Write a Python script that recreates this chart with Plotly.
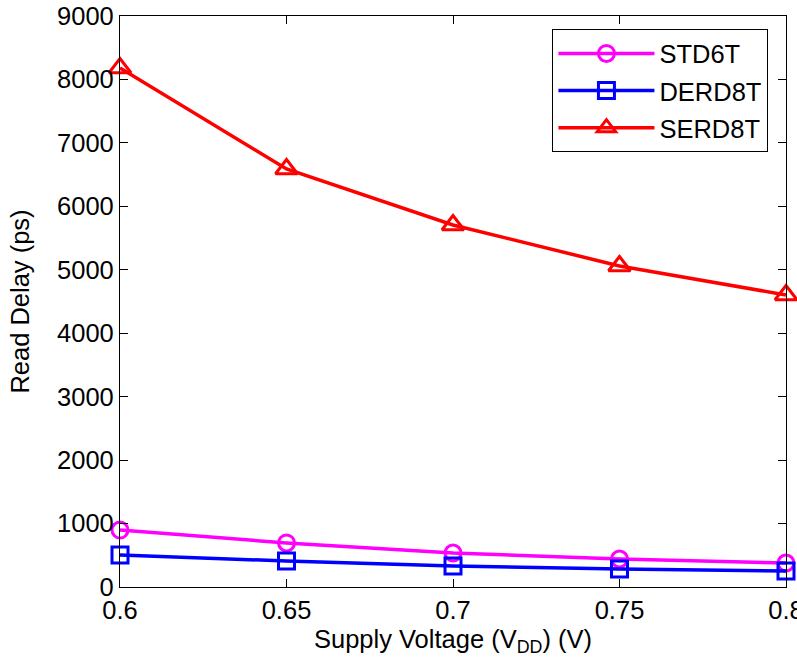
import plotly.graph_objects as go

vdd = [0.6, 0.65, 0.7, 0.75, 0.8]
std6t = [898, 694, 536, 441, 378]
derd8t = [504, 410, 331, 284, 252]
serd8t = [8180, 6589, 5706, 5060, 4603]

x_ticks = [0.6, 0.65, 0.7, 0.75, 0.8]
x_ticklabels = ["0.6", "0.65", "0.7", "0.75", "0.8"]
y_ticks = [0, 1000, 2000, 3000, 4000, 5000, 6000, 7000, 8000, 9000]

FONT = "Liberation Sans, Arial, Helvetica, sans-serif"
FS = 25.5

fig = go.Figure()
series = [
    ("STD6T", std6t, "#ff00ff", "circle-open", 16),
    ("DERD8T", derd8t, "#0000ff", "square-open", 16),
    ("SERD8T", serd8t, "#ff0000", "triangle-up-open", 19),
]
for name, vals, col, sym, sz in series:
    fig.add_trace(go.Scatter(
        x=vdd, y=vals, name=name, mode="lines+markers",
        line=dict(color=col, width=3.5),
        marker=dict(symbol=sym, size=sz, color=col, line=dict(width=3, color=col)),
        legendgroup=name, cliponaxis=False,
    ))

axis_common = dict(
    showline=True, linecolor="black", linewidth=1.2, mirror="ticks",
    ticks="inside", ticklen=8, tickcolor="black", tickwidth=1,
    showgrid=False, zeroline=False, automargin=False,
    ticklabeloverflow="allow",
    tickfont=dict(family=FONT, size=FS, color="black"),
)

fig.update_layout(
    width=797, height=666,
    margin=dict(l=120, r=11, t=16, b=79, autoexpand=False),
    paper_bgcolor="white", plot_bgcolor="white",
    font=dict(family=FONT, size=FS, color="black"),
    xaxis=dict(range=[0.6, 0.8], tickvals=x_ticks, ticktext=x_ticklabels,
               title=dict(text="Supply Voltage (V<sub>DD</sub>) (V)", standoff=7,
                          font=dict(family=FONT, size=FS)),
               **axis_common),
    yaxis=dict(range=[0, 9000], tickvals=y_ticks,
               title=dict(text="Read Delay (ps)", standoff=20,
                          font=dict(family=FONT, size=FS)),
               **axis_common),
    legend=dict(x=0.649, y=0.977, xanchor="left", yanchor="top",
                bordercolor="black", borderwidth=1.2, bgcolor="white",
                font=dict(family=FONT, size=FS, color="black"),
                traceorder="grouped", tracegroupgap=1, itemwidth=96),
    showlegend=True,
)

fig.write_html(
    "out.html",
    config={"displayModeBar": False},
    post_script="document.body.style.margin='0';document.body.style.overflow='hidden';",
)
